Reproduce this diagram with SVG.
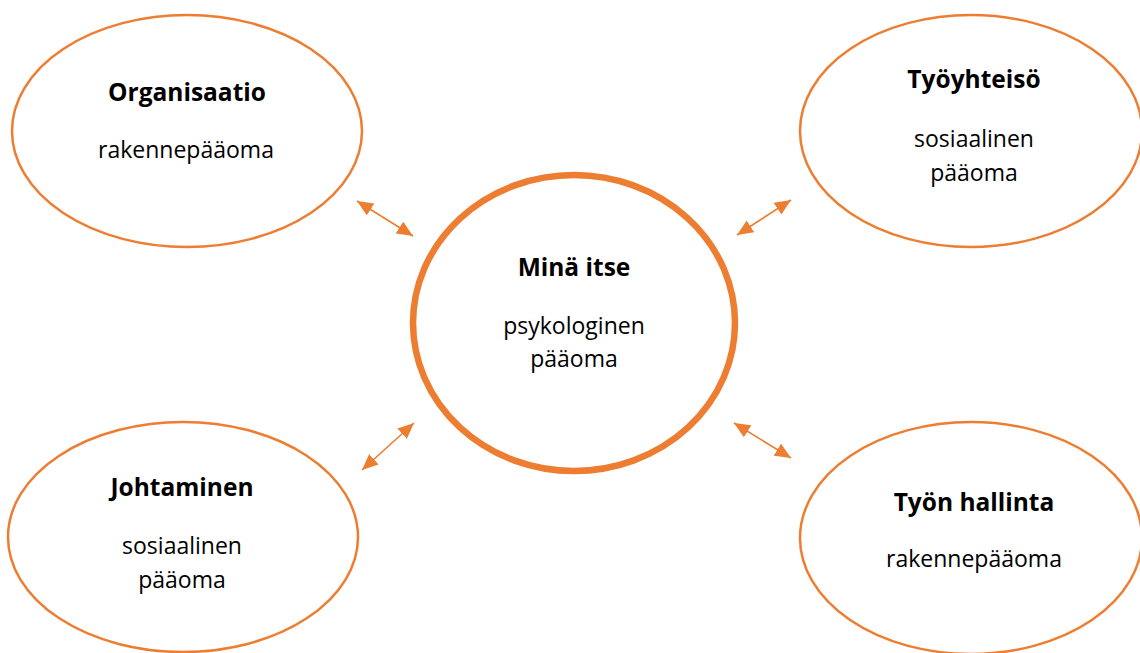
<svg xmlns="http://www.w3.org/2000/svg" width="1140" height="653" viewBox="0 0 1140 653">
<defs>
<style>
.node{fill:#fff;stroke:#ED7D31;stroke-width:2.5}
.center{fill:#fff;stroke:#ED7D31;stroke-width:6.5}
.t{font-family:"Open Sans","Liberation Sans",sans-serif;font-size:23px;fill:#000;text-anchor:middle}
.b{font-weight:bold;font-size:24.5px}
.conn{stroke:#ED7D31;stroke-width:1.6;fill:none;marker-start:url(#ah);marker-end:url(#ah)}
</style>
<marker id="ah" viewBox="0 0 16 14" refX="16" refY="7" markerWidth="16" markerHeight="14" markerUnits="userSpaceOnUse" orient="auto-start-reverse">
<path d="M0,0 L16,7 L0,14 Z" fill="#ED7D31"/>
</marker>
</defs>
<rect width="1140" height="653" fill="#fff"/>
<g id="organisaatio">
<ellipse class="node" cx="187" cy="131" rx="175" ry="116"/>
<text class="t b" x="187" y="101">Organisaatio</text>
<text class="t" x="186" y="158">rakennepääoma</text>
</g>
<g id="tyoyhteiso">
<ellipse class="node" cx="971" cy="131" rx="171" ry="116"/>
<text class="t b" x="974" y="88">Työyhteisö</text>
<text class="t" x="974" y="147">sosiaalinen</text>
<text class="t" x="974" y="181">pääoma</text>
</g>
<g id="mina-itse">
<ellipse class="center" cx="574" cy="323" rx="161" ry="148"/>
<text class="t b" x="574" y="276">Minä itse</text>
<text class="t" x="574" y="334">psykologinen</text>
<text class="t" x="574" y="367">pääoma</text>
</g>
<g id="johtaminen">
<ellipse class="node" cx="183" cy="537" rx="175" ry="115"/>
<text class="t b" x="182" y="496">Johtaminen</text>
<text class="t" x="182" y="554">sosiaalinen</text>
<text class="t" x="182" y="588">pääoma</text>
</g>
<g id="tyon-hallinta">
<ellipse class="node" cx="971" cy="538" rx="171" ry="116"/>
<text class="t b" x="974" y="511">Työn hallinta</text>
<text class="t" x="974" y="567">rakennepääoma</text>
</g>
<g id="connectors">
<line class="conn" x1="357" y1="201" x2="413" y2="236"/>
<line class="conn" x1="737" y1="235" x2="791" y2="200"/>
<line class="conn" x1="362" y1="470" x2="414" y2="423"/>
<line class="conn" x1="734" y1="423" x2="791" y2="458"/>
</g>
</svg>
